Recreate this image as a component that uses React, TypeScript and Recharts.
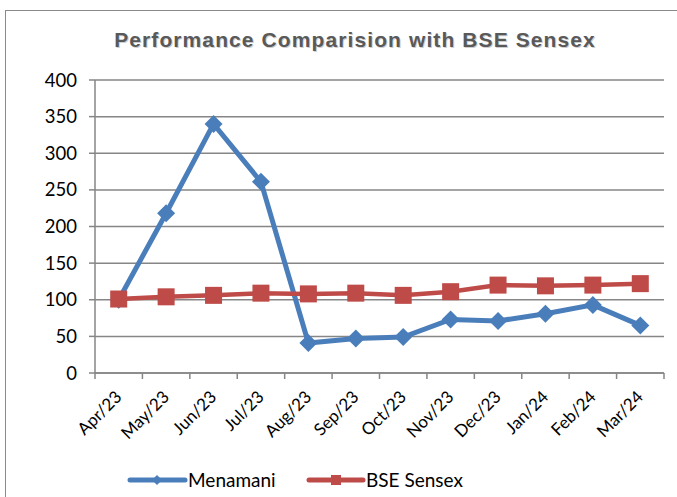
import React from "react";
import { LineChart, Line, XAxis, YAxis, CartesianGrid } from "recharts";

const months = ["Apr/23", "May/23", "Jun/23", "Jul/23", "Aug/23", "Sep/23", "Oct/23", "Nov/23", "Dec/23", "Jan/24", "Feb/24", "Mar/24"];
const menamani = [100, 218, 340, 261, 41, 47, 49, 73, 71, 81, 93, 65];
const sensex = [101, 104, 106, 109, 108, 109, 106, 111, 120, 119, 120, 122];
const yTicks = [0, 50, 100, 150, 200, 250, 300, 350, 400];

const data = months.map((m, i) => ({ month: m, Menamani: menamani[i], Sensex: sensex[i] }));

const BLUE = "#4A7EBB";
const RED = "#BE4B48";
const GRID = "#868686";
const FONT = "Lato, 'Open Sans', sans-serif";

const W = 677;
const H = 497;
const M = { top: 80, right: 13, bottom: 34, left: 0 };
const YW = 95;
const XH = 90;
const BAND = (W - M.left - M.right - YW) / months.length;

const Diamond = (props: any) => {
  const { cx, cy } = props;
  if (cx == null || cy == null) return null;
  const r = 9;
  return <polygon points={`${cx},${cy - r} ${cx + r},${cy} ${cx},${cy + r} ${cx - r},${cy}`} fill={BLUE} />;
};

const Square = (props: any) => {
  const { cx, cy } = props;
  if (cx == null || cy == null) return null;
  const s = 17;
  return <rect x={cx - s / 2} y={cy - s / 2} width={s} height={s} fill={RED} />;
};

const XTick = (props: any) => {
  const { x, y, payload, index } = props;
  const axisY = y - 8;
  const lx = x + 4;
  const ly = y + 17;
  return (
    <g>
      <line x1={x - BAND / 2} y1={axisY} x2={x - BAND / 2} y2={axisY + 6} stroke={GRID} strokeWidth={1.5} />
      {index === months.length - 1 && (
        <line x1={x + BAND / 2} y1={axisY} x2={x + BAND / 2} y2={axisY + 6} stroke={GRID} strokeWidth={1.5} />
      )}
      <text
        x={lx}
        y={ly}
        transform={`rotate(-45 ${lx} ${ly})`}
        textAnchor="end"
        fontFamily={FONT}
        fontSize={17}
        fill="#000"
      >
        {payload.value}
      </text>
    </g>
  );
};

const LegendBox = () => (
  <svg width={W} height={30} style={{ position: "absolute", left: 0, top: 465, display: "block" }}>
    <line x1={130} y1={15} x2={185} y2={15} stroke={BLUE} strokeWidth={5} strokeLinecap="round" />
    <polygon points="157,10 162,15 157,20 152,15" fill={BLUE} />
    <text x={188} y={21.5} fontFamily={FONT} fontSize={19} fill="#000">Menamani</text>
    <line x1={309} y1={15} x2={363} y2={15} stroke={RED} strokeWidth={5} strokeLinecap="round" />
    <rect x={331} y={10} width={10} height={10} fill={RED} />
    <text x={366} y={21.5} fontFamily={FONT} fontSize={19} fill="#000">BSE Sensex</text>
  </svg>
);

const TITLE_FONT = "'Liberation Sans', Arial, sans-serif";

export default function App() {
  return (
    <div style={{ position: "absolute", left: 0, top: 0, width: W, height: H, overflow: "hidden", background: "#fff" }}>
      <div
        style={{
          position: "absolute",
          left: 5,
          top: 10,
          width: W + 20,
          height: H + 20,
          border: "1.5px solid #8a8a8a",
          boxSizing: "border-box",
        }}
      />
      <div style={{ position: "absolute", left: 0, top: 0 }}>
        <LineChart width={W} height={H} data={data} margin={M}>
          <text x={356} y={48} textAnchor="middle" fontFamily={TITLE_FONT} fontWeight="bold" fontSize={21} letterSpacing={1.1} fill="#cfcfcf">
            Performance Comparision with BSE Sensex
          </text>
          <text x={355} y={47} textAnchor="middle" fontFamily={TITLE_FONT} fontWeight="bold" fontSize={21} letterSpacing={1.1} fill="#595959">
            Performance Comparision with BSE Sensex
          </text>
          <CartesianGrid vertical={false} stroke={GRID} strokeWidth={1.5} />
          <XAxis
            dataKey="month"
            height={XH}
            interval={0}
            padding={{ left: BAND / 2, right: BAND / 2 }}
            tickLine={false}
            axisLine={{ stroke: GRID, strokeWidth: 1.5 }}
            tick={<XTick />}
          />
          <YAxis
            width={YW}
            domain={[0, 400]}
            ticks={yTicks}
            interval={0}
            tickSize={6}
            tickLine={{ stroke: GRID, strokeWidth: 1.5 }}
            axisLine={{ stroke: GRID, strokeWidth: 1.5 }}
            tick={{ fill: "#000", fontSize: 18.5, fontFamily: FONT }}
            tickMargin={12}
          />
          <Line
            dataKey="Menamani"
            stroke={BLUE}
            strokeWidth={5}
            dot={<Diamond />}
            activeDot={false}
            isAnimationActive={false}
          />
          <Line
            dataKey="Sensex"
            name="BSE Sensex"
            stroke={RED}
            strokeWidth={4.5}
            dot={<Square />}
            activeDot={false}
            isAnimationActive={false}
          />
        </LineChart>
      </div>
      <LegendBox />
    </div>
  );
}
